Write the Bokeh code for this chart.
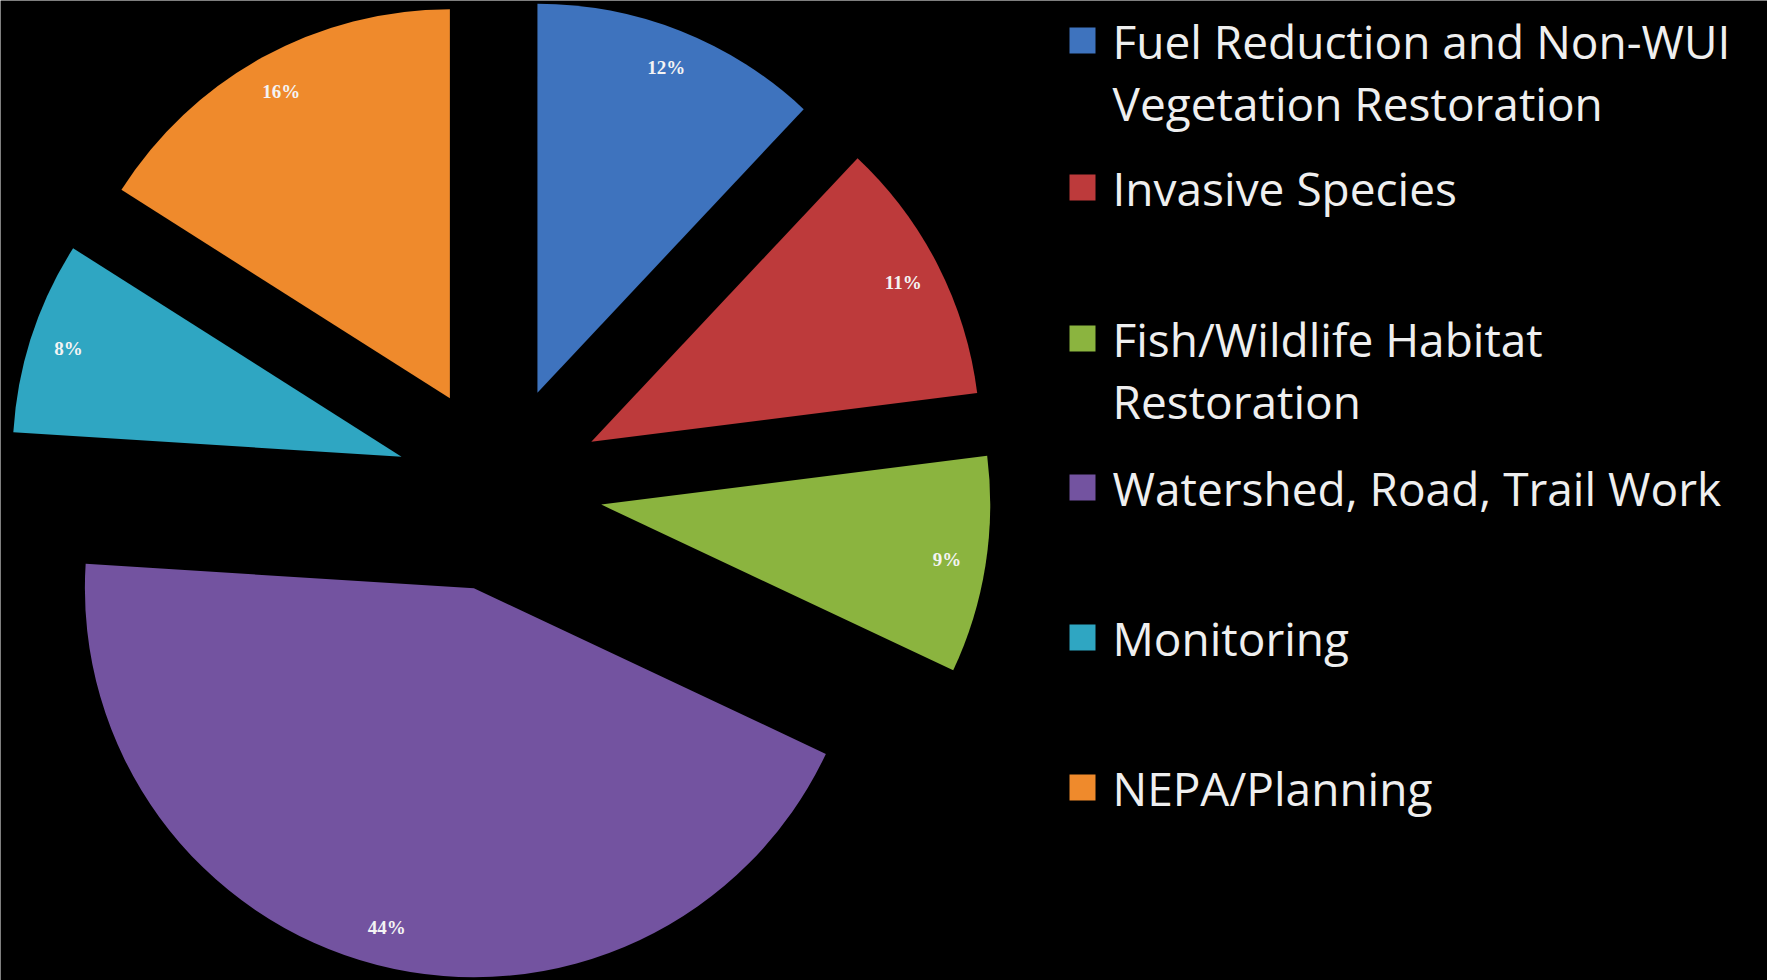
import math
from bokeh.plotting import figure
from bokeh.models import Range1d, ColumnDataSource
from bokeh.embed import file_html
from bokeh.resources import INLINE
from bokeh.core.properties import value

# ---- data ----
categories = [
    ["Fuel Reduction and Non-WUI", "Vegetation Restoration"],
    ["Invasive Species"],
    ["Fish/Wildlife Habitat", "Restoration"],
    ["Watershed, Road, Trail Work"],
    ["Monitoring"],
    ["NEPA/Planning"],
]
shares = [12, 11, 9, 44, 8, 16]
pct_labels = ["12%", "11%", "9%", "44%", "8%", "16%"]
colors = ["#3E73BE", "#BD3A3B", "#8BB43F", "#7353A0", "#2FA6C2", "#EF8A2C"]

# ---- layout ----
W, H = 1767, 980
CX, CY = 499, H - 488      # pie centre
R = 389                    # radius
EXPLODE = 103              # explosion distance
LABEL_F = 0.9

p = figure(width=W, height=H, x_range=Range1d(0, W), y_range=Range1d(0, H),
           x_axis_type=None, y_axis_type=None,
           output_backend="svg", toolbar_location=None, min_border=0,
           background_fill_color="black", border_fill_color="black",
           outline_line_color=None)
p.grid.visible = False

total = float(sum(shares))
xs, ys, starts, ends, lx, ly = [], [], [], [], [], []
cum = 0.0
for s in shares:
    t1 = cum / total * 2 * math.pi          # clockwise from 12 o'clock
    t2 = (cum + s) / total * 2 * math.pi
    mid = (t1 + t2) / 2
    dx, dy = math.sin(mid), math.cos(mid)
    x0, y0 = CX + EXPLODE * dx, CY + EXPLODE * dy
    xs.append(x0); ys.append(y0)
    starts.append(math.pi / 2 - t2)
    ends.append(math.pi / 2 - t1)
    lx.append(x0 + LABEL_F * R * dx)
    ly.append(y0 + LABEL_F * R * dy)
    cum += s

src = ColumnDataSource(dict(x=xs, y=ys, start=starts, end=ends, color=colors,
                            lx=lx, ly=ly, lab=pct_labels))
p.wedge(x="x", y="y", radius=R, start_angle="start", end_angle="end",
        fill_color="color", line_color=None, source=src)
p.text(x="lx", y="ly", text="lab", source=src, text_color="#F4F4F4",
       text_font=value("Liberation Serif"), text_font_size="19px",
       text_font_style="bold", text_align="center", text_baseline="middle")

# ---- legend (manual) ----
item_y = [40, 187, 338, 487, 637, 787]   # first-line centre, from top
LINE = 62
sq = dict(x=[], y=[], color=[])
tx = dict(x=[], y=[], t=[])
for i, lines in enumerate(categories):
    sq["x"].append(1082); sq["y"].append(H - item_y[i]); sq["color"].append(colors[i])
    for j, ln in enumerate(lines):
        tx["x"].append(1112); tx["y"].append(H - item_y[i] - j * LINE); tx["t"].append(ln)

p.rect(x="x", y="y", width=26, height=26, fill_color="color", line_color=None,
       source=ColumnDataSource(sq))
p.text(x="x", y="y", text="t", source=ColumnDataSource(tx), text_color="#EFEFEF",
       text_font=value("Open Sans"), text_font_size="46px",
       text_align="left", text_baseline="middle")

open("out.html", "w").write(file_html(p, INLINE))
